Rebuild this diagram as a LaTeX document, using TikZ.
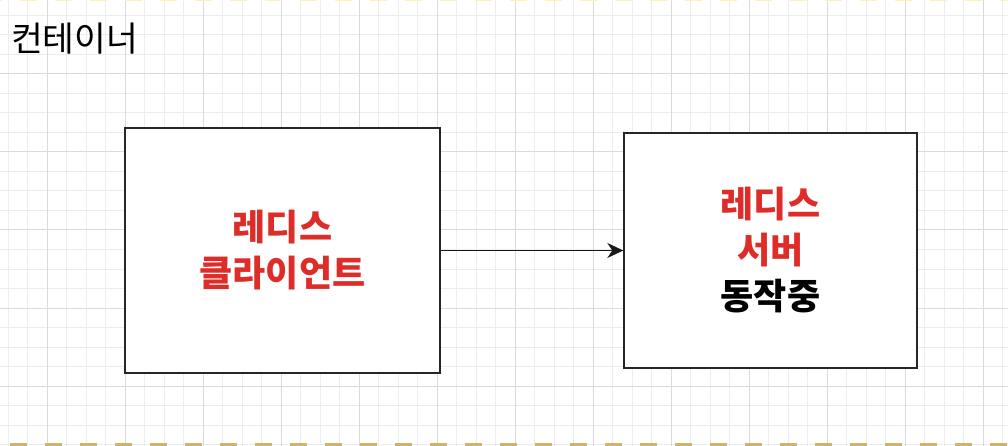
\documentclass[tikz,border=0pt]{standalone}
\usepackage{fontspec}
\setmainfont{Noto Sans CJK KR}
\usetikzlibrary{arrows.meta}
\definecolor{redtxt}{RGB}{222,45,40}
\definecolor{gridminor}{RGB}{236,236,236}
\definecolor{gridmajor}{RGB}{218,218,218}
\definecolor{dashgold}{RGB}{204,180,104}
\definecolor{dashlight}{RGB}{255,242,180}
\tikzset{
  box/.style={draw=black!85, line width=1.4pt, fill=white, align=center, inner sep=0pt,
    font=\fontsize{36}{46}\selectfont\bfseries},
  conn/.style={draw=black!90, line width=1.5pt, -{Stealth[length=16pt,width=15pt,inset=5pt]}},
  title/.style={anchor=west, inner sep=0pt, font=\fontsize{34.5}{38}\selectfont}
}
\begin{document}
\begin{tikzpicture}[x=1pt,y=-1pt]
\useasboundingbox (0,0) rectangle (1008,446);
\fill[white] (0,0) rectangle (1008,446);
% grid
\foreach \i in {0,...,51} {
  \pgfmathsetmacro\xx{8+19.5*\i}
  \draw[gridminor, line width=1pt] (\xx,0) -- (\xx,446);
}
\foreach \j in {0,...,22} {
  \pgfmathsetmacro\yy{15.5+19.5*\j}
  \draw[gridminor, line width=1pt] (0,\yy) -- (1008,\yy);
}
\foreach \i in {0,...,12} {
  \pgfmathsetmacro\xx{47+78*\i}
  \draw[gridmajor, line width=1pt] (\xx,0) -- (\xx,446);
}
\foreach \j in {0,...,4} {
  \pgfmathsetmacro\yy{74+78*\j}
  \draw[gridmajor, line width=1pt] (0,\yy) -- (1008,\yy);
}
% container dashed edges
\draw[dashlight, line width=3pt, dash pattern=on 17pt off 18pt, dash phase=-20pt] (0,0) -- (1008,0);
\draw[dashgold, line width=5pt, dash pattern=on 17pt off 18pt, dash phase=-10pt] (0,445.5) -- (1008,445.5);
% title
\node[title] (title) at (11,39) {컨테이너};
% boxes
\node[box, minimum width=315pt, minimum height=245pt] (client) at (282.5,250.5)
  {\textcolor{redtxt}{레디스}\\\textcolor{redtxt}{클라이언트}};
\node[box, minimum width=293pt, minimum height=235pt] (server) at (770.5,250.5)
  {\textcolor{redtxt}{레디스}\\\textcolor{redtxt}{서버}\\동작중};
\draw[conn] (client.east) -- (server.west);
\end{tikzpicture}
\end{document}
